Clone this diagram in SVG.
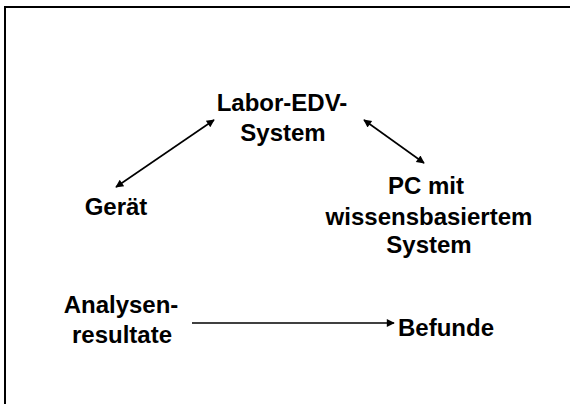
<svg xmlns="http://www.w3.org/2000/svg" width="570" height="404" viewBox="0 0 570 404">
<style>
text{font-family:"Liberation Sans",Arial,sans-serif;font-weight:bold;font-size:24px;fill:#000;text-anchor:middle}
.c{stroke:#000;stroke-width:1.6;fill:none}
</style>
<defs>
<marker id="ah" viewBox="0 0 10 10" refX="9" refY="5" markerWidth="10" markerHeight="8" markerUnits="userSpaceOnUse" orient="auto-start-reverse">
<path d="M0,0 L10,5 L0,10 Z" fill="#000"/>
</marker>
</defs>
<rect width="570" height="404" fill="#fff"/>
<g id="frame" stroke="#000" stroke-width="2" fill="none">
<path d="M5,404 V7 H570"/>
</g>
<g id="labor"><text x="282" y="111">Labor-EDV-</text><text x="283" y="141">System</text></g>
<g id="geraet"><text x="116" y="215">Gerät</text></g>
<g id="pc"><text x="426" y="194">PC mit</text><text x="429" y="225">wissensbasiertem</text><text x="429" y="253">System</text></g>
<g id="analysen"><text x="121" y="313">Analysen-</text><text x="122" y="343">resultate</text></g>
<g id="befunde"><text x="446" y="336">Befunde</text></g>
<g id="connectors">
<line class="c" x1="116" y1="187" x2="214" y2="120" marker-start="url(#ah)" marker-end="url(#ah)"/>
<line class="c" x1="364" y1="120" x2="424" y2="163" marker-start="url(#ah)" marker-end="url(#ah)"/>
<line class="c" x1="192" y1="323" x2="394" y2="323" marker-end="url(#ah)"/>
</g>
</svg>
